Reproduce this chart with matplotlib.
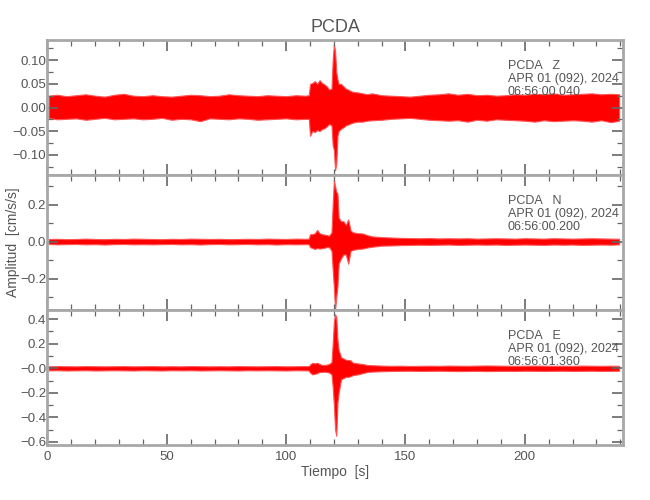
import matplotlib
matplotlib.use("Agg")
import matplotlib.pyplot as plt
from matplotlib.ticker import MultipleLocator, FixedLocator, FixedFormatter

plt.rcParams['font.family'] = ['Liberation Sans', 'DejaVu Sans']

# envelope of each trace (time in s, amplitude in cm/s/s)
t_env = [0.5, 4, 8, 12, 16, 20, 24, 28, 32, 36, 40, 44, 48, 52, 56, 60, 64, 68,
         72, 76, 80, 84, 88, 92, 96, 100, 104, 108,
         109.5, 110, 111, 112, 113, 114, 115, 116, 117, 118,
         119, 119.5, 120, 120.5, 121, 121.5, 122,
         123, 124, 125, 126, 127, 128,
         130, 132, 134, 136,
         140, 144, 148, 152, 156, 160, 164, 168, 172, 176, 180, 184, 188, 192,
         196, 200, 204, 208, 212, 216, 220, 224, 228, 232, 236, 239.5]

z_up = [0.025, 0.027, 0.024, 0.026, 0.028, 0.025, 0.023, 0.027, 0.029, 0.025, 0.024, 0.026,
        0.024, 0.023, 0.025, 0.027, 0.026, 0.024, 0.025, 0.028, 0.026, 0.025, 0.024, 0.026,
        0.025, 0.024, 0.026, 0.025,
        0.026, 0.050, 0.052, 0.056, 0.050, 0.058, 0.052, 0.049, 0.045, 0.038,
        0.040, 0.100, 0.135, 0.120, 0.075, 0.060, 0.050,
        0.050, 0.045, 0.040, 0.038, 0.035, 0.033,
        0.032, 0.030, 0.028, 0.030,
        0.026, 0.025, 0.024, 0.023, 0.025, 0.027, 0.028, 0.030, 0.027, 0.029, 0.026, 0.027,
        0.025, 0.026, 0.028, 0.027, 0.029, 0.028, 0.030, 0.027, 0.028, 0.029, 0.030, 0.028,
        0.029, 0.028]
z_lo = [-0.022, -0.025, -0.024, -0.023, -0.026, -0.024, -0.022, -0.025, -0.024, -0.023, -0.025, -0.024,
        -0.022, -0.026, -0.024, -0.025, -0.029, -0.023, -0.024, -0.025, -0.023, -0.024, -0.026, -0.025,
        -0.024, -0.023, -0.025, -0.024,
        -0.024, -0.060, -0.050, -0.052, -0.048, -0.050, -0.046, -0.044, -0.040, -0.035,
        -0.038, -0.080, -0.090, -0.133, -0.120, -0.060, -0.050,
        -0.045, -0.042, -0.038, -0.036, -0.034, -0.032,
        -0.030, -0.030, -0.028, -0.027,
        -0.026, -0.024, -0.023, -0.022, -0.024, -0.026, -0.027, -0.028, -0.027, -0.030, -0.026, -0.028,
        -0.025, -0.026, -0.027, -0.028, -0.030, -0.027, -0.029, -0.028, -0.027, -0.028, -0.030, -0.027,
        -0.031, -0.028]

n_up = [0.014, 0.015, 0.013, 0.014, 0.016, 0.014, 0.013, 0.015, 0.014, 0.016, 0.015, 0.014,
        0.013, 0.015, 0.014, 0.016, 0.015, 0.014, 0.015, 0.013, 0.014, 0.015, 0.014, 0.016,
        0.015, 0.014, 0.016, 0.015,
        0.016, 0.040, 0.040, 0.045, 0.063, 0.045, 0.040, 0.038, 0.035, 0.032,
        0.050, 0.200, 0.337, 0.300, 0.270, 0.260, 0.130,
        0.110, 0.110, 0.090, 0.120, 0.060, 0.050,
        0.045, 0.044, 0.035, 0.028,
        0.024, 0.022, 0.020, 0.019, 0.018, 0.019, 0.017, 0.018, 0.017, 0.018, 0.016, 0.017,
        0.018, 0.017, 0.016, 0.018, 0.017, 0.016, 0.018, 0.017, 0.016, 0.017, 0.018, 0.017,
        0.016, 0.015]
n_lo = [-0.013, -0.015, -0.014, -0.013, -0.015, -0.014, -0.016, -0.014, -0.013, -0.015, -0.014, -0.015,
        -0.014, -0.013, -0.015, -0.014, -0.016, -0.014, -0.013, -0.015, -0.014, -0.013, -0.015, -0.014,
        -0.016, -0.014, -0.015, -0.014,
        -0.015, -0.030, -0.035, -0.040, -0.035, -0.038, -0.036, -0.034, -0.030, -0.030,
        -0.050, -0.150, -0.250, -0.367, -0.300, -0.240, -0.120,
        -0.090, -0.070, -0.070, -0.120, -0.050, -0.045,
        -0.040, -0.038, -0.032, -0.028,
        -0.022, -0.021, -0.019, -0.018, -0.017, -0.018, -0.017, -0.016, -0.018, -0.017, -0.016, -0.017,
        -0.016, -0.018, -0.017, -0.016, -0.017, -0.018, -0.016, -0.017, -0.016, -0.018, -0.017, -0.016,
        -0.017, -0.015]

e_up = [0.016, 0.018, 0.017, 0.016, 0.018, 0.017, 0.016, 0.017, 0.018, 0.016, 0.017, 0.018,
        0.016, 0.017, 0.016, 0.018, 0.017, 0.016, 0.017, 0.016, 0.018, 0.017, 0.016, 0.017,
        0.018, 0.016, 0.017, 0.018,
        0.018, 0.030, 0.045, 0.040, 0.045, 0.035, 0.028, 0.027, 0.030, 0.035,
        0.050, 0.200, 0.380, 0.440, 0.420, 0.230, 0.150,
        0.090, 0.080, 0.070, 0.068, 0.065, 0.045,
        0.040, 0.035, 0.027, 0.025,
        0.022, 0.020, 0.021, 0.019, 0.020, 0.021, 0.020, 0.022, 0.021, 0.020, 0.022, 0.023,
        0.022, 0.021, 0.020, 0.021, 0.022, 0.021, 0.020, 0.021, 0.020, 0.022, 0.021, 0.020,
        0.021, 0.020]
e_lo = [-0.017, -0.016, -0.018, -0.017, -0.016, -0.018, -0.017, -0.016, -0.017, -0.018, -0.016, -0.017,
        -0.018, -0.016, -0.017, -0.016, -0.018, -0.017, -0.016, -0.017, -0.018, -0.016, -0.017, -0.016,
        -0.017, -0.018, -0.016, -0.017,
        -0.018, -0.035, -0.050, -0.045, -0.040, -0.030, -0.030, -0.028, -0.030, -0.035,
        -0.050, -0.150, -0.300, -0.500, -0.550, -0.280, -0.200,
        -0.090, -0.080, -0.070, -0.070, -0.065, -0.055,
        -0.050, -0.040, -0.030, -0.027,
        -0.024, -0.022, -0.021, -0.020, -0.022, -0.021, -0.020, -0.022, -0.023, -0.022, -0.021, -0.023,
        -0.022, -0.021, -0.022, -0.020, -0.021, -0.022, -0.021, -0.020, -0.022, -0.021, -0.020, -0.022,
        -0.021, -0.020]

components = ['Z', 'N', 'E']
start_times = ['06:56:00.040', '06:56:00.200', '06:56:01.360']
date_label = 'APR 01 (092), 2024'
station = 'PCDA'

ylims = [(-0.143, 0.143), (-0.37, 0.36), (-0.625, 0.475)]
yticks = [[-0.10, -0.05, 0.00, 0.05, 0.10],
          [-0.2, 0.0, 0.2],
          [-0.6, -0.4, -0.2, 0.0, 0.2, 0.4]]
ytick_labels = [['\u22120.10', '\u22120.05', '0.00', '0.05', '0.10'],
                ['\u22120.2', '0.0', '0.2'],
                ['\u22120.6', '\u22120.4', '\u22120.2', '\u22120.0', '0.2', '0.4']]
yminor = [0.025, 0.1, 0.1]
traces = [(z_up, z_lo), (n_up, n_lo), (e_up, e_lo)]

grey = '#a8a8a8'
txt = '#555555'

fig, axes = plt.subplots(3, 1, figsize=(6.5, 5), dpi=100, sharex=True)
fig.subplots_adjust(left=0.073, right=0.958, top=0.92, bottom=0.11, hspace=0)

for i, ax in enumerate(axes):
    up, lo = traces[i]
    ax.fill_between(t_env, lo, up, color='red', lw=0.8, edgecolor='#ff5555')
    ax.set_xlim(0, 241)
    ax.set_ylim(*ylims[i])
    ax.yaxis.set_major_locator(FixedLocator(yticks[i]))
    ax.yaxis.set_major_formatter(FixedFormatter(ytick_labels[i]))
    ax.yaxis.set_minor_locator(MultipleLocator(yminor[i]))
    ax.xaxis.set_major_locator(MultipleLocator(50))
    ax.xaxis.set_minor_locator(MultipleLocator(10))
    for s in ax.spines.values():
        s.set_color(grey)
        s.set_linewidth(2)
    ax.tick_params(which='both', direction='in', top=True, right=True,
                   colors='#666666', labelcolor=txt, labelsize=9.5)
    ax.tick_params(which='major', length=8, width=1.2, pad=1)
    ax.tick_params(which='minor', length=4.5, width=0.9)
    ax.tick_params(axis='x', pad=4)
    ax.text(0.80, 0.855, f'{station}   {components[i]}\n{date_label}\n{start_times[i]}',
            transform=ax.transAxes, ha='left', va='top', fontsize=9,
            color=txt, linespacing=1.15)

axes[0].set_title(station, fontsize=13, color=txt, pad=6)
axes[2].set_xlabel('Tiempo  [s]', fontsize=10, color=txt, labelpad=2)
fig.text(0.02, 0.515, 'Amplitud  [cm/s/s]', rotation=90, ha='center', va='center',
         fontsize=10, color=txt)

fig.savefig('out.png', dpi=100)
